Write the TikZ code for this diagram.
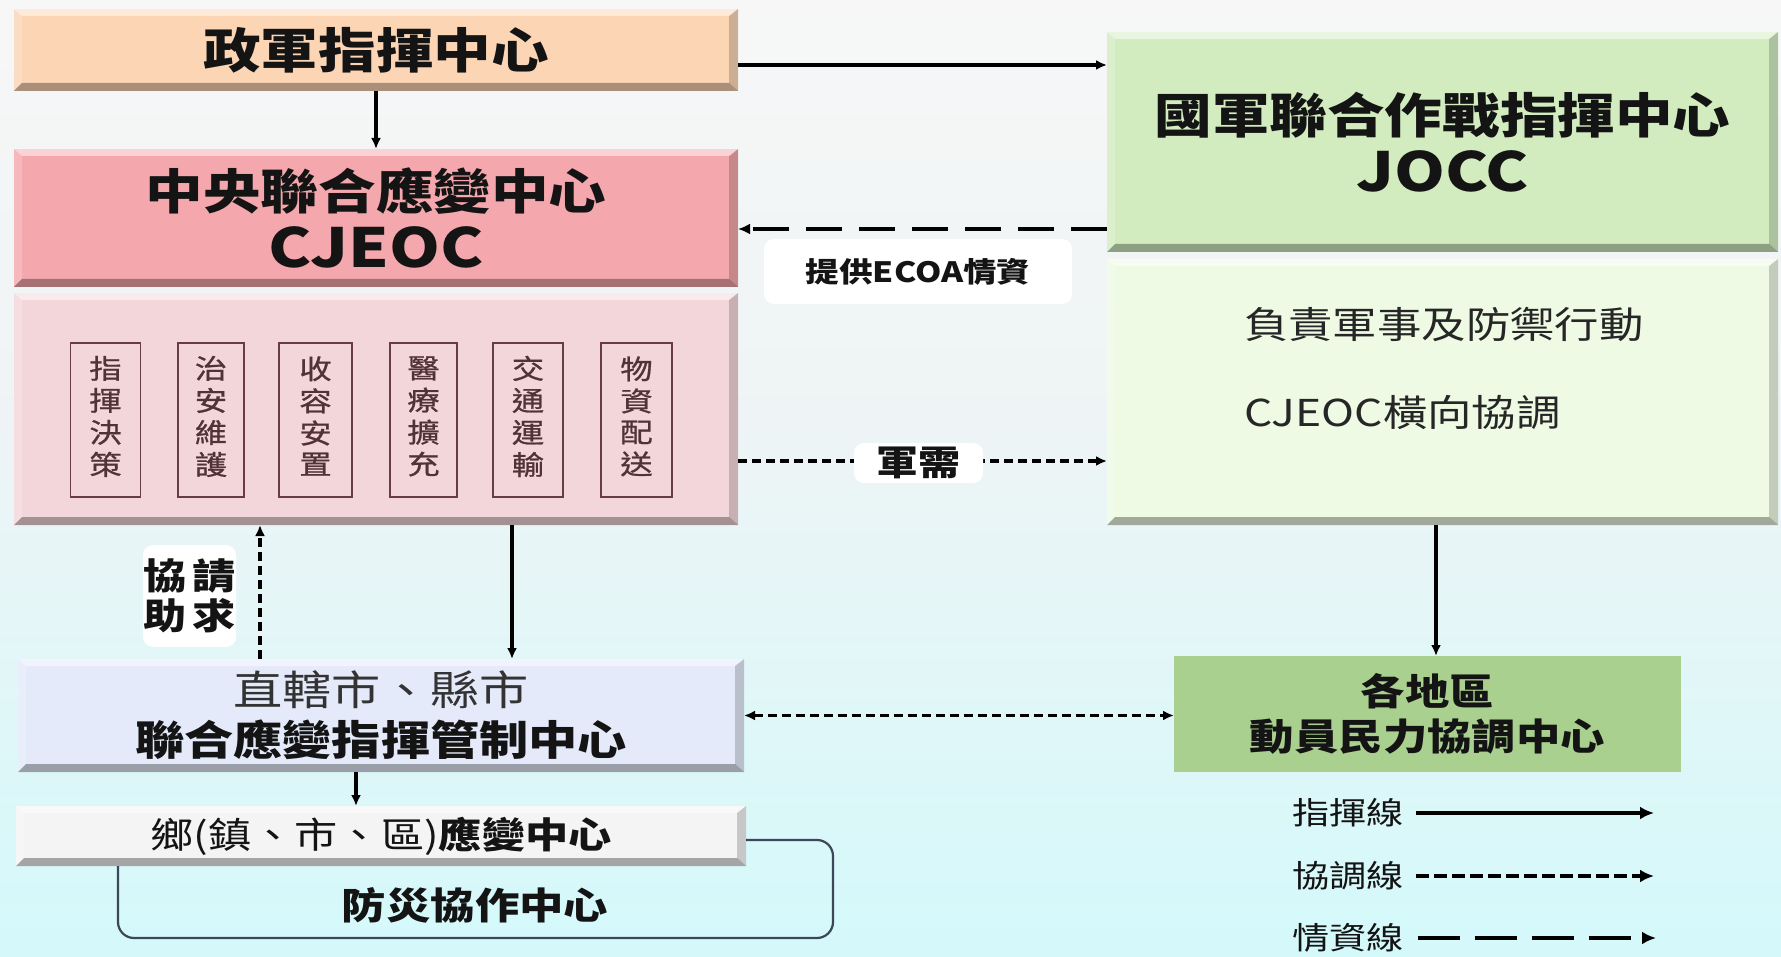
\documentclass[tikz,border=0pt]{standalone}
\usepackage{fontspec}
\setmainfont{Noto Sans CJK TC}[FakeStretch=1.2]
\usetikzlibrary{arrows.meta,calc}
\definecolor{peach}{RGB}{252,213,180}
\definecolor{pinkA}{RGB}{244,167,172}
\definecolor{pinkB}{RGB}{243,214,218}
\definecolor{greenA}{RGB}{210,236,192}
\definecolor{greenB}{RGB}{238,250,228}
\definecolor{blueA}{RGB}{228,234,250}
\definecolor{greyA}{RGB}{244,244,244}
\definecolor{greenC}{RGB}{169,208,142}
\definecolor{bgtop}{RGB}{247,247,247}
\definecolor{bgmid}{RGB}{238,244,245}
\definecolor{bgbot}{RGB}{212,249,251}
\definecolor{subline}{RGB}{105,60,66}
\definecolor{subtext}{RGB}{80,50,55}
\definecolor{frame}{RGB}{60,72,88}
\begin{document}
\begin{tikzpicture}[x=1pt,y=-1pt,
  every node/.style={inner sep=0pt, outer sep=0pt, text=black!92},
  bevel/.style={path picture={
    \coordinate (pNW) at (path picture bounding box.north west);
    \coordinate (pNE) at (path picture bounding box.north east);
    \coordinate (pSW) at (path picture bounding box.south west);
    \coordinate (pSE) at (path picture bounding box.south east);
    \fill[white,opacity=.5] (pNW) -- (pNE) -- ([shift={(-8pt,-7pt)}]pNE) -- ([shift={(8pt,-7pt)}]pNW) -- cycle;
    \fill[white,opacity=.2] (pNW) -- ([shift={(8pt,-7pt)}]pNW) -- ([shift={(8pt,8pt)}]pSW) -- (pSW) -- cycle;
    \fill[black,opacity=.18] (pNE) -- (pSE) -- ([shift={(-9pt,8pt)}]pSE) -- ([shift={(-9pt,-7pt)}]pNE) -- cycle;
    \fill[black,opacity=.32] (pSW) -- (pSE) -- ([shift={(-9pt,8pt)}]pSE) -- ([shift={(8pt,8pt)}]pSW) -- cycle;
  }},
  box/.style={rectangle, fill=#1, bevel, align=center},
  subbox/.style={rectangle, draw=subline, line width=1.8pt, minimum width=70, minimum height=154,
    align=center, text=subtext, font=\fontsize{27}{31}\selectfont\addfontfeature{FakeBold=0.8}},
  tag/.style={rectangle, fill=white, rounded corners=10pt, align=center},
  cmd/.style={line width=3.2pt, -{Latex[length=11pt,width=10pt]}},
  crd/.style={line width=3.2pt, dash pattern=on 9pt off 5pt, -{Latex[length=11pt,width=10pt]}},
  intel/.style={line width=3.4pt, dash pattern=on 36pt off 17pt, -{Latex[length=12pt,width=11pt]}},
]
\useasboundingbox (0,0) rectangle (1781,957);
\shade[top color=bgtop, bottom color=bgmid] (0,0) rectangle (1781,420);
\shade[top color=bgmid, bottom color=bgbot] (0,420) rectangle (1781,957);

% left column
\node[box=peach, minimum width=724, minimum height=82, font=\bfseries\fontsize{48}{58}\selectfont] (zj) at (376,50) {政軍指揮中心};
\node[box=pinkA, minimum width=724, minimum height=138, font=\bfseries\fontsize{48}{58}\selectfont] (cj) at (376,218) {中央聯合應變中心\\{\fontsize{54}{58}\selectfont CJEOC}};
\node[box=pinkB, minimum width=724, minimum height=232] (cjl) at (376,409) {};
\node[subbox] (s1) at (105.5,420) {\raisebox{7pt}{\begin{tabular}{@{}c@{}}指\\揮\\決\\策\end{tabular}}};
\node[subbox, minimum width=66] (s2) at (211,420) {\raisebox{7pt}{\begin{tabular}{@{}c@{}}治\\安\\維\\護\end{tabular}}};
\node[subbox, minimum width=73] (s3) at (315.5,420) {\raisebox{7pt}{\begin{tabular}{@{}c@{}}收\\容\\安\\置\end{tabular}}};
\node[subbox, minimum width=67] (s4) at (423.5,420) {\raisebox{7pt}{\begin{tabular}{@{}c@{}}醫\\療\\擴\\充\end{tabular}}};
\node[subbox] (s5) at (528,420) {\raisebox{7pt}{\begin{tabular}{@{}c@{}}交\\通\\運\\輸\end{tabular}}};
\node[subbox, minimum width=71] (s6) at (636.5,420) {\raisebox{7pt}{\begin{tabular}{@{}c@{}}物\\資\\配\\送\end{tabular}}};

% right column
\node[box=greenA, minimum width=671, minimum height=220, font=\bfseries\fontsize{48}{58}\selectfont] (jo) at (1442.5,142) {國軍聯合作戰指揮中心\\{\fontsize{54}{58}\selectfont JOCC}};
\node[box=greenB, minimum width=671, minimum height=266] (jol) at (1442.5,392) {};
\node[anchor=west, align=left, font=\fontsize{37}{88}\selectfont, text=black!85] (jtxt) at (1244,368) {負責軍事及防禦行動\\CJEOC橫向協調};

% lower left
\node[draw=frame, line width=2.2pt, rounded corners=16pt, minimum width=715, minimum height=98] (fz) at (475.5,889) {};
\node[font=\bfseries\fontsize{37}{44}\selectfont] (fzt) at (475,905) {防災協作中心};
\node[box=blueA, minimum width=726, minimum height=113, font=\fontsize{41}{50}\selectfont] (zx) at (381,715.5) {{\color{black!80}直轄市、縣市}\\\textbf{聯合應變指揮管制中心}};
\node[box=greyA, minimum width=730, minimum height=60, font=\fontsize{36}{44}\selectfont] (xz) at (381,836) {鄉(鎮、市、區)\textbf{應變中心}};

% lower right
\node[rectangle, fill=greenC, minimum width=507, minimum height=116, align=center, font=\bfseries\fontsize{37}{45}\selectfont] (gd) at (1427.5,714) {各地區\\動員民力協調中心};

% connectors
\draw[cmd] (zj.south) -- (cj.north);
\draw[cmd] ([yshift=-15pt]zj.east) -- ([yshift=-15pt]zj.east -| jo.west);
\draw[intel] ([yshift=-87pt]jo.west) -- ([yshift=-87pt]jo.west -| cj.east);
\draw[crd] ([yshift=-52pt]cjl.east) -- ([yshift=-52pt]cjl.east -| jol.west);
\draw[crd] ([xshift=-121pt]zx.north) -- ([xshift=-121pt]zx.north |- cjl.south);
\draw[cmd] ([xshift=136pt]cjl.south) -- ([xshift=136pt]cjl.south |- zx.north);
\draw[cmd] ([xshift=-6.5pt]jol.south) -- ([xshift=-6.5pt]jol.south |- gd.north);
\draw[crd, {Latex[length=11pt,width=10pt]}-{Latex[length=11pt,width=10pt]}] (zx.east) -- (zx.east -| gd.west);
\draw[cmd] ([xshift=-25pt]zx.south) -- ([xshift=-25pt]zx.south |- xz.north);

% labels
\node[tag, minimum width=308, minimum height=65, font=\bfseries\fontsize{28}{34}\selectfont] (l1) at (918,271.5) {提供ECOA情資};
\node[tag, minimum width=129, minimum height=40, font=\bfseries\fontsize{35}{40}\selectfont] (l2) at (918.5,463) {軍需};
\node[tag, minimum width=93, minimum height=102, font=\bfseries\fontsize{36}{40}\selectfont] (l3) at (189.5,596) {協\,請\\助\,求};

% legend
\node[font=\fontsize{31}{36}\selectfont] (lg1) at (1348,813) {指揮線};
\node[font=\fontsize{31}{36}\selectfont] (lg2) at (1348,876) {協調線};
\node[font=\fontsize{31}{36}\selectfont] (lg3) at (1348,938) {情資線};
\coordinate (lg1e) at (1654,813);
\coordinate (lg2e) at (1654,876);
\coordinate (lg3e) at (1656,938);
\draw[line width=4.8pt, -{Latex[length=14pt,width=13pt]}] ([xshift=12pt]lg1.east) -- (lg1e);
\draw[line width=4.8pt, dash pattern=on 13pt off 5pt, -{Latex[length=14pt,width=13pt]}] ([xshift=12pt]lg2.east) -- (lg2e);
\draw[line width=4.8pt, dash pattern=on 42pt off 15pt, -{Latex[length=14pt,width=13pt]}] ([xshift=14pt]lg3.east) -- (lg3e);
\end{tikzpicture}
\end{document}
